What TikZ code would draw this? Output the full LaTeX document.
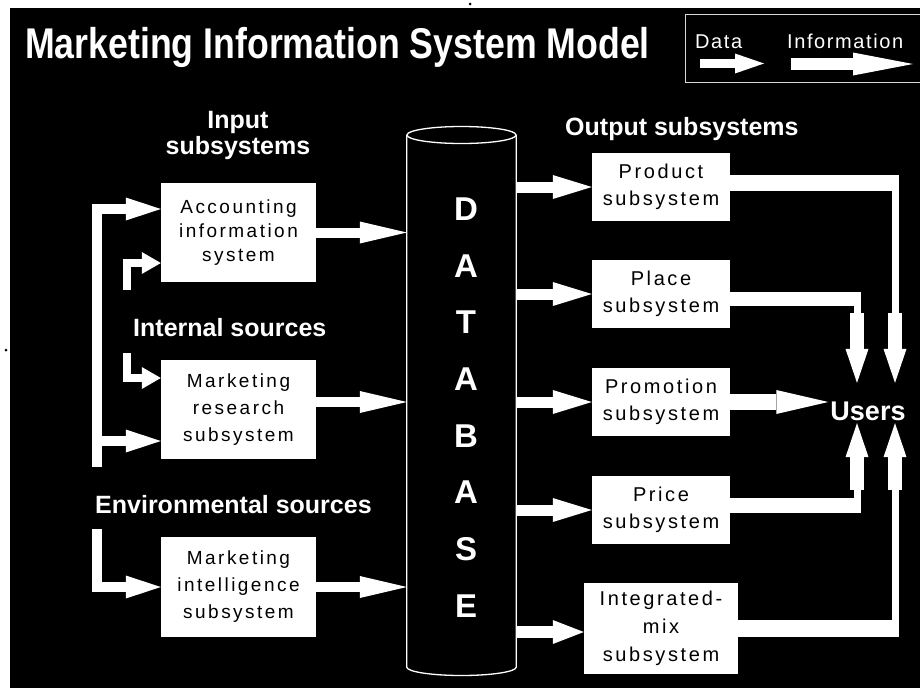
\documentclass[tikz,border=0pt]{standalone}
\usepackage{graphicx}
\usepackage{fontspec}
\setmainfont{Liberation Sans}
\newfontfamily\boxfont[LetterSpace=13]{Liberation Sans}
\newfontfamily\legfont[LetterSpace=8]{Liberation Sans}
\usetikzlibrary{arrows.meta,calc}
\begin{document}
\begin{tikzpicture}[x=1pt,y=-1pt,
  box/.style={fill=white,text=black,inner sep=0pt,align=center},
  rbox/.style={box,minimum width=138pt,minimum height=68pt,font=\boxfont\fontsize{20}{27}\selectfont},
  lbox/.style={box,minimum width=155pt,minimum height=99pt,font=\boxfont\fontsize{19}{27}\selectfont},
  lab/.style={text=white,inner sep=0pt,font=\bfseries\fontsize{25}{26}\selectfont},
  legtext/.style={text=white,inner sep=0pt,font=\legfont\fontsize{20}{22}\selectfont},
  dbl/.style={text=white,inner sep=0pt,font=\bfseries\fontsize{33}{33}\selectfont},
  inarrow/.style={draw=white,line width=10pt,-{Triangle[length=35pt,width=23pt,line width=0pt]}},
  stubarrow/.style={draw=white,line width=8pt,-{Triangle[length=19pt,width=22pt,line width=0pt]}},
  dbin/.style={draw=white,line width=10pt,-{Triangle[length=47pt,width=22pt,line width=0pt]}},
  dbout/.style={draw=white,line width=11pt,-{Triangle[length=39pt,width=24pt,line width=0pt]}},
  dbouts/.style={draw=white,line width=12pt,-{Triangle[length=31pt,width=24pt,line width=0pt]}},
  uarrow/.style={draw=white,line width=14pt,-{Triangle[length=34pt,width=23pt,line width=0pt]}},
  promoarrow/.style={draw=white,line width=16pt,-{Triangle[length=52pt,width=24pt,line width=0pt]}},
  legdata/.style={draw=white,line width=9pt,-{Triangle[length=29pt,width=20pt,line width=0pt]}},
  leginfo/.style={draw=white,line width=12pt,-{Triangle[length=60pt,width=23pt,line width=0pt]}},
  narrow/.style={draw=white,line width=7pt},
]
% background and margins
\fill[white] (0,0) rectangle (920,688);
\fill[black] (9.5,7.5) rectangle (920,688);
\fill[black] (470,4) circle (1.5);
\fill[black] (6,350) circle (1.5);
\useasboundingbox (0,0) rectangle (920,688);

% title
\node[anchor=base west,text=white,inner sep=0pt] (title) at (25,58)
  {\fontsize{43}{50}\selectfont\bfseries\scalebox{0.83}[1]{Marketing Information System Model}};

% legend
\node[draw=white!85!black,line width=1.2pt,minimum width=240pt,minimum height=68pt,inner sep=0pt,anchor=north west] (legend) at (685,14) {};
\node[legtext,anchor=base west] (ldata) at (695,48) {Data};
\node[legtext,anchor=base west] (linfo) at (787,48) {Information};
\coordinate (ld1) at (700,63.5);
\coordinate (ld2) at (764,63.5);
\coordinate (li1) at (791,64);
\coordinate (li2) at (913,64);
\draw[legdata] (ld1) -- (ld2);
\draw[leginfo] (li1) -- (li2);

% headers
\node[lab,anchor=north,align=center] (inhdr) at (238,111) {Input\\subsystems};
\node[lab,anchor=base west] (outhdr) at (565,135) {Output subsystems};
\node[lab,anchor=base west] (intsrc) at (133,336) {Internal sources};
\node[lab,anchor=base west] (envsrc) at (95,513) {Environmental sources};

% left boxes
\node[lbox,font=\boxfont\fontsize{19}{24}\selectfont] (acc) at (238.5,232.5) {Accounting\\information\\system};
\node[lbox] (mres) at (238.5,409.5) {Marketing\\research\\subsystem};
\node[lbox,minimum height=100pt] (mint) at (238.5,587) {Marketing\\intelligence\\subsystem};

% database
\node[minimum width=109pt,minimum height=532pt,inner sep=0pt] (db) at (461.5,401) {};
\draw[white,line width=1.3pt,fill=black] (db.north west) -- (db.south west)
  .. controls (407,671.69) and (431.4,675.5) .. (461.5,675.5)
  .. controls (491.6,675.5) and (516,671.69) .. (db.south east) -- (db.north east);
\draw[white,line width=1.3pt,fill=black] (461.5,135) ellipse [x radius=54.5,y radius=8.5];
\foreach \l [count=\i] in {D,A,T,A,B,A,S,E}
  \node[dbl] (dbl\i) at (466,{209+56.7*(\i-1)}) {\l};

% right boxes
\node[rbox] (prod) at (661,187) {Product\\subsystem};
\node[rbox] (place) at (661,294) {Place\\subsystem};
\node[rbox] (promo) at (661,402) {Promotion\\subsystem};
\node[rbox] (price) at (661,510) {Price\\subsystem};
\node[rbox,minimum width=154pt,minimum height=91pt,font=\boxfont\fontsize{20}{28}\selectfont] (integ) at (661,628.5) {Integrated-\\mix\\subsystem};

% users
\node[text=white,inner sep=0pt,font=\bfseries\fontsize{27}{30}\selectfont] (users) at (868,411.5) {Users};
\coordinate (uT1) at ($(users.north)+(-11,-19)$);
\coordinate (uT2) at ($(users.north)+(27,-19)$);
\coordinate (uB1) at ($(users.south)+(-11,2)$);
\coordinate (uB2) at ($(users.south)+(27,2)$);

% input arrows (left)
\coordinate (trunk) at (96.5,467);
\coordinate (s1) at (127,290);
\coordinate (s2) at (127,353);
\coordinate (env) at (96.5,529);
\draw[inarrow] (trunk) |- ($(acc.west)+(0,-23.5)$);
\draw[inarrow] ($(trunk |- mres.west)+(0,31.5)$) -- ($(mres.west)+(0,31.5)$);
\draw[stubarrow] (s1) |- ($(acc.west)+(0,30.5)$);
\draw[stubarrow] (s2) |- ($(mres.west)+(0,-31.5)$);
\draw[inarrow] (env) |- (mint.west);

% boxes -> database
\draw[dbin] (acc.east) -- (acc.east -| db.west);
\draw[dbin] ($(mres.east)+(0,-7.5)$) -- ($(mres.east -| db.west)+(0,-7.5)$);
\draw[dbin] (mint.east) -- (mint.east -| db.west);

% database -> output boxes
\draw[dbout] (prod.west -| db.east) -- (prod.west);
\draw[dbout] (place.west -| db.east) -- (place.west);
\draw[dbout] (promo.west -| db.east) -- (promo.west);
\draw[dbout] (price.west -| db.east) -- (price.west);
\draw[dbouts] ($(integ.west -| db.east)+(0,3.5)$) -- ($(integ.west)+(0,3.5)$);

% output boxes -> users
\draw[white,line width=16pt] ($(prod.east)+(0,-4)$) -- ($(uT2 |- prod.east)+(4,-4)$);
\draw[narrow] ($(uT2 |- prod.east)+(0.5,-4)$) -- ($(uT2)+(0.5,-69)$);
\draw[uarrow] ($(uT2)+(0,-70)$) -- (uT2);

\draw[white,line width=14pt] ($(place.east)+(0,5)$) -- ($(uT1 |- place.east)+(3.5,5)$);
\draw[narrow] ($(uT1 |- place.east)+(0,5)$) -- ($(uT1)+(0,-69)$);
\draw[uarrow] ($(uT1)+(0,-70)$) -- (uT1);

\draw[promoarrow] (promo.east) -- ($(promo.east -| users.west)+(-2,0)$);

\draw[white,line width=15pt] ($(price.east)+(0,-4.5)$) -- ($(uB1 |- price.east)+(3.5,-4.5)$);
\draw[narrow] ($(uB1 |- price.east)+(0,-4.5)$) -- ($(uB1)+(0,66)$);
\draw[uarrow] ($(uB1)+(0,67)$) -- (uB1);

\draw[white,line width=17pt] (integ.east) -- ($(uB2 |- integ.east)+(4,0)$);
\draw[narrow] ($(uB2 |- integ.east)+(0.5,0)$) -- ($(uB2)+(0.5,66)$);
\draw[uarrow] ($(uB2)+(0,67)$) -- (uB2);
\end{tikzpicture}
\end{document}
